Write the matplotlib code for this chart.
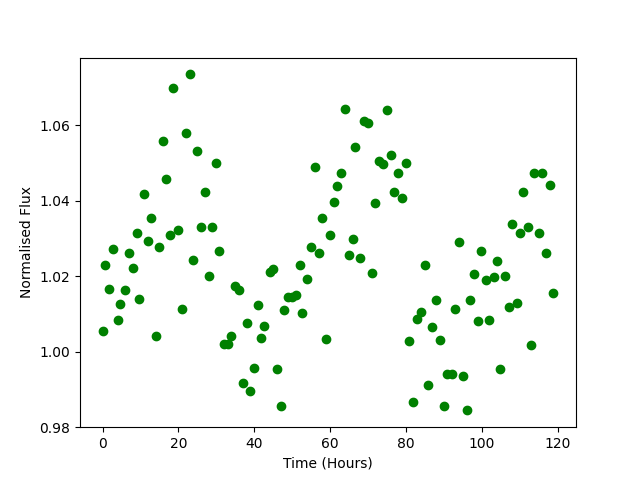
import matplotlib
matplotlib.use('Agg')
from matplotlib import pyplot as plt

time_hours = [
    0.0, 0.7, 1.8, 2.8, 4.0, 4.7, 5.8, 6.9, 7.9, 9.0,
    9.7, 10.8, 11.9, 12.9, 14.0, 14.8, 15.9, 16.8, 17.8, 18.7,
    19.8, 20.9, 21.9, 23.0, 23.8, 24.9, 25.9, 26.9, 28.0, 28.8,
    29.9, 30.8, 31.9, 33.0, 33.8, 34.8, 36.0, 37.0, 38.1, 38.8,
    39.9, 41.0, 41.9, 42.6, 44.1, 45.0, 46.0, 47.0, 47.8, 48.9,
    50.0, 51.0, 52.0, 52.7, 53.9, 54.9, 56.0, 57.1, 57.8, 59.0,
    59.9, 61.1, 61.8, 62.8, 64.0, 64.9, 66.0, 66.6, 67.9, 68.9,
    70.1, 71.0, 71.8, 73.0, 74.0, 75.1, 76.1, 76.8, 78.0, 79.0,
    80.1, 80.9, 81.9, 82.9, 84.0, 85.1, 85.9, 86.9, 87.9, 89.0,
    90.0, 90.9, 92.1, 93.0, 94.1, 95.1, 96.0, 97.0, 98.0, 99.1,
    99.9, 101.0, 102.0, 103.1, 104.1, 104.9, 106.1, 107.1, 108.1, 109.2,
    110.0, 111.0, 112.1, 113.0, 113.8, 115.0, 116.0, 117.0, 118.1, 118.9,
]

norm_flux = [
    1.0054, 1.0229, 1.0167, 1.0273, 1.0083, 1.0126, 1.0165, 1.0262, 1.0223, 1.0316,
    1.0141, 1.0419, 1.0295, 1.0356, 1.0043, 1.0279, 1.0559, 1.0459, 1.0310, 1.0700,
    1.0324, 1.0114, 1.0581, 1.0737, 1.0244, 1.0533, 1.0330, 1.0423, 1.0200, 1.0332,
    1.0501, 1.0268, 1.0021, 1.0021, 1.0041, 1.0174, 1.0163, 0.9916, 1.0077, 0.9897,
    0.9956, 1.0125, 1.0037, 1.0068, 1.0212, 1.0219, 0.9954, 0.9855, 1.0112, 1.0144,
    1.0146, 1.0150, 1.0229, 1.0103, 1.0194, 1.0277, 1.0491, 1.0263, 1.0356, 1.0033,
    1.0310, 1.0396, 1.0440, 1.0473, 1.0644, 1.0256, 1.0300, 1.0544, 1.0248, 1.0611,
    1.0607, 1.0208, 1.0395, 1.0507, 1.0499, 1.0640, 1.0521, 1.0423, 1.0473, 1.0408,
    1.0501, 1.0028, 0.9868, 1.0088, 1.0105, 1.0229, 0.9911, 1.0067, 1.0138, 1.0032,
    0.9857, 0.9942, 0.9942, 1.0114, 1.0292, 0.9937, 0.9845, 1.0138, 1.0207, 1.0081,
    1.0268, 1.0191, 1.0085, 1.0197, 1.0242, 0.9954, 1.0200, 1.0120, 1.0338, 1.0130,
    1.0314, 1.0423, 1.0330, 1.0019, 1.0473, 1.0314, 1.0473, 1.0263, 1.0441, 1.0157,
]

fig = plt.figure(figsize=(6.4, 4.8), dpi=100)
plt.plot(time_hours, norm_flux, 'go')
plt.ylim(0.98, 1.078)
plt.xlabel('Time (Hours)')
plt.ylabel('Normalised Flux')
fig.savefig('out.png', dpi=100)
